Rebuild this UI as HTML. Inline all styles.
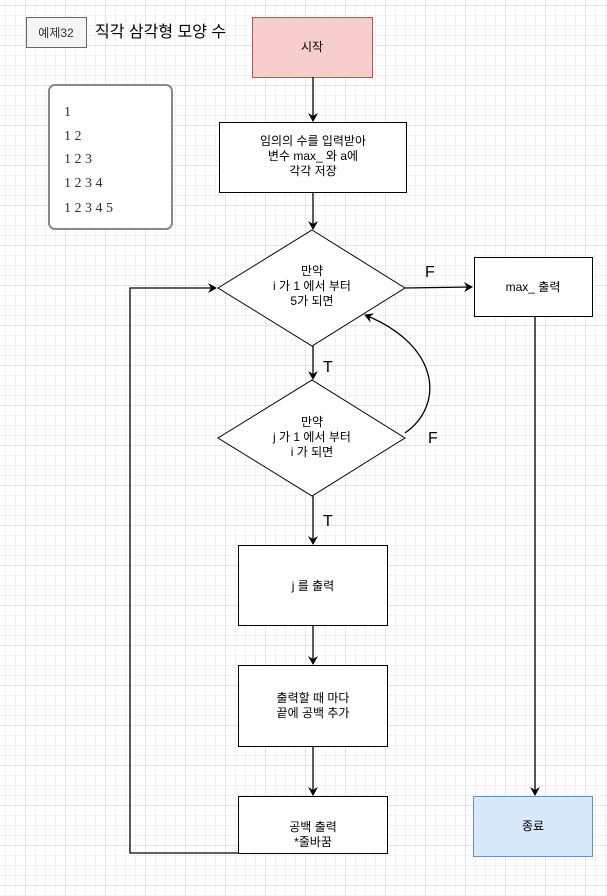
<!DOCTYPE html>
<html><head><meta charset="utf-8"><style>
html,body{margin:0;padding:0;}
body{width:607px;height:896px;overflow:hidden;background:#fff;
background-image:
linear-gradient(#e4e4e4 1px,transparent 1px),
linear-gradient(90deg,#e4e4e4 1px,transparent 1px),
linear-gradient(#f1f1f1 1px,transparent 1px),
linear-gradient(90deg,#f1f1f1 1px,transparent 1px);
background-size:40px 40px,40px 40px,10px 10px,10px 10px;
background-position:0 5px,25px 0,0 5px,5px 0;}
svg{position:absolute;left:0;top:0;}
text{font-family:"Liberation Sans","Noto Sans CJK KR",sans-serif;font-size:12px;fill:#000;}
</style></head><body>
<svg width="607" height="896" viewBox="0 0 607 896">
<defs><marker id="a" markerWidth="10" markerHeight="10" refX="8" refY="5" orient="auto" markerUnits="userSpaceOnUse"><path d="M0,0 L9,5 L0,10 L3,5 Z" fill="#000"/></marker></defs>
<rect x="26.5" y="17.5" width="60" height="30" fill="#f5f5f5" stroke="#666"/>
<text x="56" y="37" text-anchor="middle" fill="#333" style="fill:#333">예제32</text>
<text x="95" y="37" style="font-size:16px">직각 삼각형 모양 수</text>
<rect x="49" y="85" width="123" height="144" rx="6" fill="#fff" stroke="#888" stroke-width="2"/>
<g style="font-family:'Liberation Serif',serif;font-size:14px">
<text x="64" y="116" style="font-family:'Liberation Serif',serif;font-size:14px;fill:#333">1</text>
<text x="64" y="140" style="font-family:'Liberation Serif',serif;font-size:14px;fill:#333">1 2</text>
<text x="64" y="163" style="font-family:'Liberation Serif',serif;font-size:14px;fill:#333">1 2 3</text>
<text x="64" y="187" style="font-family:'Liberation Serif',serif;font-size:14px;fill:#333">1 2 3 4</text>
<text x="64" y="212" style="font-family:'Liberation Serif',serif;font-size:14px;fill:#333">1 2 3 4 5</text>
</g>
<rect x="252.5" y="17.5" width="120" height="60" fill="#f8cecc" stroke="#b85450"/>
<text x="312" y="51" text-anchor="middle">시작</text>
<g stroke="#000" stroke-width="1.3" fill="none">
<line x1="313" y1="77" x2="313" y2="121" marker-end="url(#a)"/>
<line x1="313" y1="192" x2="313" y2="229" marker-end="url(#a)"/>
<line x1="405" y1="288" x2="472" y2="287" marker-end="url(#a)"/>
<line x1="535" y1="316" x2="535" y2="795" marker-end="url(#a)"/>
<line x1="313" y1="346" x2="313" y2="379" marker-end="url(#a)"/>
<path d="M405,433 C445,405 440,345 365,315" marker-end="url(#a)"/>
<line x1="313" y1="496" x2="313" y2="544" marker-end="url(#a)"/>
<line x1="313" y1="625" x2="313" y2="664" marker-end="url(#a)"/>
<line x1="313" y1="746" x2="313" y2="795" marker-end="url(#a)"/>
<polyline points="238,853 130,853 130,288 216,288" marker-end="url(#a)"/>
</g>
<rect x="219.5" y="122.5" width="187" height="70" fill="#fff" stroke="#000"/>
<text x="313" y="145" text-anchor="middle">임의의 수를 입력받아</text>
<text x="313" y="160" text-anchor="middle">변수 max_ 와 a에</text>
<text x="313" y="175" text-anchor="middle">각각 저장</text>
<polygon points="312,230 405,288 312,346 218,288" fill="#fff" stroke="#000"/>
<text x="312" y="275" text-anchor="middle">만약</text>
<text x="312" y="290" text-anchor="middle">i 가 1 에서 부터</text>
<text x="312" y="305" text-anchor="middle">5가 되면</text>
<polygon points="312,380 405,438 312,496 218,438" fill="#fff" stroke="#000"/>
<text x="312" y="426" text-anchor="middle">만약</text>
<text x="312" y="441" text-anchor="middle">j 가 1 에서 부터</text>
<text x="312" y="456" text-anchor="middle">i 가 되면</text>
<text x="425" y="277" style="font-size:16px">F</text>
<text x="428" y="443" style="font-size:16px">F</text>
<text x="323" y="372" style="font-size:16px">T</text>
<text x="323" y="526" style="font-size:16px">T</text>
<rect x="474.5" y="257.5" width="118" height="59" fill="#fff" stroke="#000"/>
<text x="533" y="291" text-anchor="middle">max_ 출력</text>
<rect x="473.5" y="796.5" width="119" height="60" fill="#dae8fc" stroke="#6c8ebf"/>
<text x="533" y="830" text-anchor="middle">종료</text>
<rect x="238.5" y="545.5" width="149" height="80" fill="#fff" stroke="#000"/>
<text x="313" y="590" text-anchor="middle">j 를 출력</text>
<rect x="238.5" y="665.5" width="149" height="81" fill="#fff" stroke="#000"/>
<text x="313" y="702" text-anchor="middle">출력할 때 마다</text>
<text x="313" y="717" text-anchor="middle">끝에 공백 추가</text>
<rect x="238.5" y="796.5" width="149" height="57" fill="#fff" stroke="#000"/>
<text x="313" y="831" text-anchor="middle">공백 출력</text>
<text x="313" y="846" text-anchor="middle">*줄바꿈</text>
</svg>
</body></html>
